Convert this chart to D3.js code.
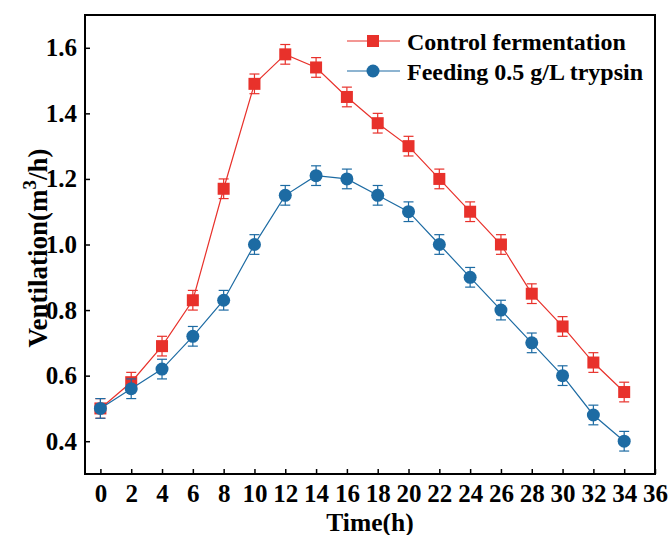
<!DOCTYPE html>
<html><head><meta charset="utf-8">
<script src="https://cdn.jsdelivr.net/npm/d3@7"></script>
<style>body{margin:0;background:#fff}svg{display:block}</style>
</head><body>
<svg id="c" width="670" height="535"></svg>
<script>
const times = [0,2,4,6,8,10,12,14,16,18,20,22,24,26,28,30,32,34];
const controlValues = [0.50,0.58,0.69,0.83,1.17,1.49,1.58,1.54,1.45,1.37,1.30,1.20,1.10,1.00,0.85,0.75,0.64,0.55];
const trypsinValues = [0.50,0.56,0.62,0.72,0.83,1.00,1.15,1.21,1.20,1.15,1.10,1.00,0.90,0.80,0.70,0.60,0.48,0.40];
const controlErr = [0.03,0.03,0.03,0.03,0.03,0.03,0.03,0.03,0.03,0.03,0.03,0.03,0.03,0.03,0.03,0.03,0.03,0.03];
const trypsinErr = [0.03,0.03,0.03,0.03,0.03,0.03,0.03,0.03,0.03,0.03,0.03,0.03,0.03,0.03,0.03,0.03,0.03,0.03];
const xTicks = [0,2,4,6,8,10,12,14,16,18,20,22,24,26,28,30,32,34,36];
const yTicks = [0.4,0.6,0.8,1.0,1.2,1.4,1.6];
const seriesNames = ["Control fermentation","Feeding 0.5 g/L trypsin"];

const FONT = '"Liberation Serif"';
const svg = d3.select("#c");
const L=85, R=655, T=15, B=474;
const x = d3.scaleLinear().domain([-1,36]).range([L,R]);
const y = d3.scaleLinear().domain([0.3,1.7]).range([B,T]);
const red = "#e8312b", blue = "#1d6ba3";

function styleText(sel, size){
  return sel.style("font-family",FONT).style("font-weight","bold").style("font-size",size+"px").attr("fill","#000");
}

const series = [
  {name:seriesNames[0], vals:controlValues, err:controlErr, color:red, shape:"square"},
  {name:seriesNames[1], vals:trypsinValues, err:trypsinErr, color:blue, shape:"circle"}
];

const line = d3.line().x(d=>x(d[0])).y(d=>y(d[1]));

series.forEach(s=>{
  const pts = times.map((t,i)=>[t,s.vals[i],s.err[i]]);
  const g = svg.append("g");
  g.append("path").attr("d",line(pts)).attr("fill","none").attr("stroke",s.color).attr("stroke-width",1.2);
  pts.forEach(p=>{
    const cx=x(p[0]);
    g.append("line").attr("x1",cx).attr("x2",cx).attr("y1",y(p[1]-p[2])).attr("y2",y(p[1]+p[2])).attr("stroke",s.color).attr("stroke-width",1.2);
    [p[1]-p[2],p[1]+p[2]].forEach(v=>{
      g.append("line").attr("x1",cx-5).attr("x2",cx+5).attr("y1",y(v)).attr("y2",y(v)).attr("stroke",s.color).attr("stroke-width",1.2);
    });
  });
  pts.forEach(p=>{
    const cx=x(p[0]), cy=y(p[1]);
    if(s.shape==="square") g.append("rect").attr("x",cx-6).attr("y",cy-6).attr("width",12).attr("height",12).attr("fill",s.color);
    else g.append("circle").attr("cx",cx).attr("cy",cy).attr("r",6.5).attr("fill",s.color);
  });
});

// axes
const xAxis = svg.append("g").attr("transform",`translate(0,${B})`)
  .call(d3.axisBottom(x).tickValues(xTicks).tickSize(-5).tickPadding(10).tickFormat(d3.format("d")));
const yAxis = svg.append("g").attr("transform",`translate(${L},0)`)
  .call(d3.axisLeft(y).tickValues(yTicks).tickSize(-5).tickPadding(8).tickFormat(d3.format(".1f")));
[xAxis,yAxis].forEach(a=>{
  a.select(".domain").remove();
  a.selectAll(".tick line").attr("stroke","#000").attr("stroke-width",1.5);
  styleText(a.selectAll("text"), 25);
});
svg.append("rect").attr("x",L).attr("y",T).attr("width",R-L).attr("height",B-T).attr("fill","none").attr("stroke","#000").attr("stroke-width",2);

// axis titles
styleText(svg.append("text").attr("x",370).attr("y",530.5).attr("text-anchor","middle"), 25.5).text("Time(h)");
const yt = styleText(svg.append("text").attr("transform",`translate(47,248) rotate(-90)`).attr("text-anchor","middle"), 27);
yt.append("tspan").text("Ventilation(m");
yt.append("tspan").attr("dy",-11).style("font-size","19px").text("3");
yt.append("tspan").attr("dy",11).text("/h)");

// legend
series.forEach((s,i)=>{
  const ly = 41 + i*30;
  const g = svg.append("g");
  g.append("line").attr("x1",347).attr("x2",400).attr("y1",ly).attr("y2",ly).attr("stroke",s.color).attr("stroke-width",1.2);
  if(s.shape==="square") g.append("rect").attr("x",367).attr("y",ly-6).attr("width",12).attr("height",12).attr("fill",s.color);
  else g.append("circle").attr("cx",373).attr("cy",ly).attr("r",6.5).attr("fill",s.color);
  styleText(g.append("text").attr("x",407).attr("y",ly+8.5), 24).text(s.name);
});
</script>
</body></html>
